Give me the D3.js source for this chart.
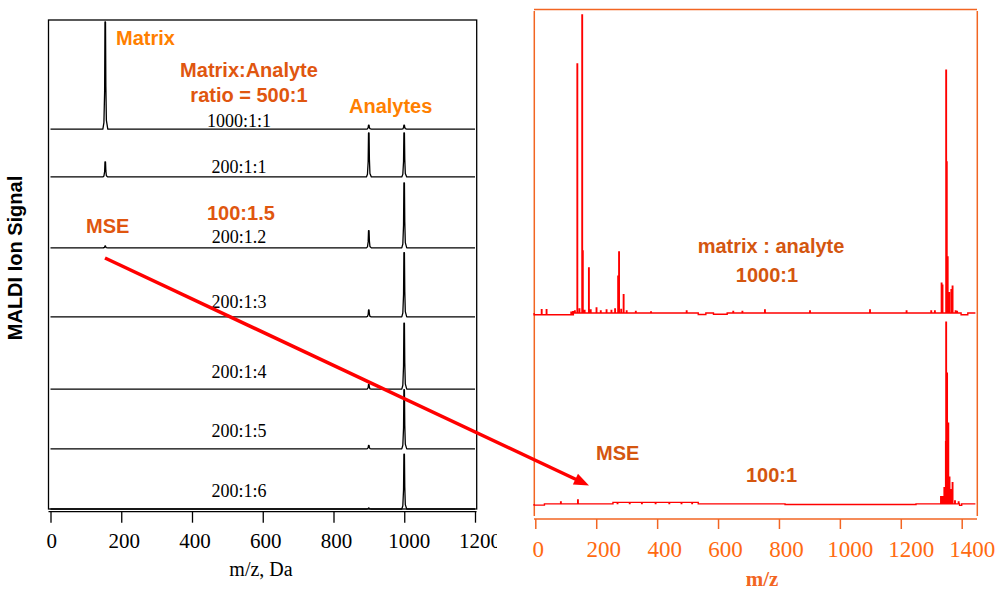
<!DOCTYPE html>
<html><head><meta charset="utf-8">
<script src="https://cdn.jsdelivr.net/npm/d3@7"></script>
<style>body{margin:0;background:#fff;overflow:hidden} svg{display:block}</style>
</head><body>
<svg id="c" width="1001" height="593"></svg>
<script>
// ---------------- data ----------------
const leftTicks = [0, 200, 400, 600, 800, 1000, 1200];
const rightTicks = [0, 200, 400, 600, 800, 1000, 1200, 1400];

const leftSampleLabels = ["1000:1:1", "200:1:1", "200:1.2", "200:1:3", "200:1:4", "200:1:5", "200:1:6"];
const leftOffsets     = [77.7, 67.9, 53.4, 39.3, 24.5, 12.3, 0];   // stacked offsets (a.u.)
const leftPeakMz      = [155, 900, 1000];
const leftMatrix155   = [21.9, 3.1, 0.4, 0, 0, 0, 0];
const leftAnalyte900  = [0.8, 9.0, 3.5, 1.4, 1.0, 0.7, 0.2];
const leftAnalyte1000 = [0.8, 9.0, 13.3, 13.1, 13.5, 12.1, 11.2];

const rightSampleLabels = ["1000:1", "100:1"];
const rightOffsets = [40.2, 2.4];
const rightTopMz  = [21, 37, 118, 124, 130, 138, 145, 154, 156, 162, 176, 182, 201, 215, 234, 250, 262, 272, 275, 282, 290, 300, 330, 380, 497, 650, 680, 754, 902, 1099, 1219, 1300, 1312, 1334, 1337, 1349, 1351, 1354, 1359, 1366, 1370, 1380, 1385];
const rightTopInt = [1.0, 1.0, 0.5, 0.6, 0.4, 49.3, 0.8, 59.0, 12.3, 0.5, 8.9, 0.6, 1.0, 0.4, 0.6, 0.5, 0.8, 7.3, 12.1, 0.7, 3.6, 0.4, 0.3, 0.2, 0.4, 0.3, 0.3, 0.6, 0.4, 0.6, 0.4, 0.4, 0.4, 5.9, 5.5, 48.1, 29.9, 11.1, 4.0, 4.6, 5.3, 0.4, 0.3];
const rightTopBandFrom  = [-4, 535, 585, 1398];
const rightTopBandTo    = [125, 560, 630, 1420];
const rightTopBandLevel = [-0.35, -0.3, -0.25, -0.35];
const rightBotMz  = [84, 140, 270, 310, 350, 395, 440, 480, 515, 1332, 1337, 1343, 1348, 1349, 1352, 1356, 1360, 1366, 1370, 1378, 1390];
const rightBotInt = [0.4, 0.8, -0.25, -0.25, -0.25, -0.25, -0.25, -0.25, -0.25, 1.4, 1.4, 3.2, 12.3, 36.0, 25.9, 16.0, 5.3, 2.8, 4.2, 0.6, 0.4];
const rightBotBandFrom  = [-4, 255, 820, 1393];
const rightBotBandTo    = [30, 535, 1250, 1400];
const rightBotBandLevel = [-0.25, 0.3, -0.12, -0.3];

// ---------------- drawing ----------------
const svg = d3.select("#c");
const ORANGE = "#FF7F00", DARKOR = "#E0560F", FRAME = "#F26522", TICKOR = "#FF6A10";
const SANS = "'Liberation Sans', Arial, sans-serif", SERIF = "'Liberation Serif', 'Times New Roman', serif";

// ---- left panel ----
const xL = d3.scaleLinear().domain([0, 1200]).range([50.5, 475]);
const yL = d3.scaleLinear().domain([0, 100]).range([509, 20]);
const peakProfile = [[-7, 0], [-4, 0.06], [-2, 0.35], [-1, 1], [0.5, 1], [1.5, 0.4], [3, 0.08], [7, 0]];

svg.append("defs").append("clipPath").attr("id", "lclip")
  .append("rect").attr("x", 0).attr("y", -20).attr("width", 497).attr("height", 120);

const left = svg.append("g");
left.append("rect").attr("x", 48.5).attr("y", 20).attr("width", 428.2).attr("height", 489)
  .attr("fill", "none").attr("stroke", "#000").attr("stroke-width", 1.3);

const lineL = d3.line().x(d => xL(d[0])).y(d => yL(d[1]));
const leftHeights = [leftMatrix155, leftAnalyte900, leftAnalyte1000];
leftSampleLabels.forEach((lab, i) => {
  const off = leftOffsets[i];
  const pts = [[0, off]];
  leftPeakMz.forEach((mz, k) => {
    const h = leftHeights[k][i];
    if (h > 0) peakProfile.forEach(p => pts.push([mz + p[0], off + p[1] * h]));
  });
  pts.push([1200, off]);
  left.append("path").attr("d", lineL(pts)).attr("fill", "none")
    .attr("stroke", "#000").attr("stroke-width", 1.3).attr("stroke-linejoin", "round");
});
const labelLift = [1.7, 4, 5.3, 8.7, 11.3, 11.7, 12.3];
left.selectAll("text.lab").data(leftSampleLabels).join("text").attr("class", "lab")
  .attr("x", 239).attr("y", (d, i) => yL(leftOffsets[i]) - labelLift[i])
  .attr("text-anchor", "middle").attr("font-family", SERIF).attr("font-size", 18).attr("fill", "#000")
  .text(d => d);

const axL = left.append("g").attr("transform", "translate(0,511.7)").attr("clip-path", "url(#lclip)");
axL.call(d3.axisBottom(xL).tickValues(leftTicks).tickFormat(d3.format("d")).tickSizeOuter(0).tickSize(11));
axL.select(".domain").attr("d", "M48.5,0H476.5").attr("stroke", "#000").attr("stroke-width", 1.3);
axL.selectAll(".tick line").attr("stroke", "#000").attr("stroke-width", 1.3);
const lShift = { 1: 0.7, 3: 2.5, 4: 4.5 };
axL.selectAll(".tick text").attr("font-family", SERIF).attr("font-size", 21).attr("fill", "#000")
  .attr("y", 36.3).attr("dy", 0).attr("dx", function () { return lShift[this.textContent.length] || 0; });
left.append("text").attr("x", 261).attr("y", 576).attr("text-anchor", "middle")
  .attr("font-family", SERIF).attr("font-size", 20).text("m/z, Da");

svg.append("text").attr("transform", "translate(22,258) rotate(-90)").attr("text-anchor", "middle")
  .attr("font-family", SANS).attr("font-weight", "bold").attr("font-size", 20).text("MALDI Ion Signal");

// annotations left
const ann = (x, y, t, c, anchor) => svg.append("text").attr("x", x).attr("y", y)
  .attr("text-anchor", anchor || "start").attr("font-family", SANS).attr("font-weight", "bold")
  .attr("font-size", 20).attr("fill", c).text(t);
ann(116, 45, "Matrix", ORANGE);
ann(249, 77, "Matrix:Analyte", DARKOR, "middle");
ann(249, 101.7, "ratio = 500:1", DARKOR, "middle");
ann(349, 113, "Analytes", ORANGE);
ann(86, 233, "MSE", DARKOR);
ann(207, 220, "100:1.5", DARKOR);

// ---- right panel ----
const xR = d3.scaleLinear().domain([0, 1400]).range([535.3, 961.7]);
const yR = d3.scaleLinear().domain([0, 100]).range([516, 11]);
const right = svg.append("g");
right.append("line").attr("x1", 534).attr("x2", 977).attr("y1", 9.5).attr("y2", 9.5).attr("stroke", FRAME).attr("stroke-width", 1.5);
[534.3, 977.3].forEach(x => right.append("line").attr("x1", x).attr("x2", x).attr("y1", 11).attr("y2", 516)
  .attr("stroke", FRAME).attr("stroke-width", 1.5));

const lineR = d3.line().x(d => xR(d[0])).y(d => yR(d[1]));
function buildSpectrum(off, mzs, ints, bFrom, bTo, bLev) {
  const level = mz => { for (let j = 0; j < bFrom.length; j++) if (mz >= bFrom[j] && mz <= bTo[j]) return bLev[j]; return 0; };
  const edges = Array.from(new Set([-4, 1445, ...bFrom, ...bTo])).sort((a, b) => a - b);
  const events = edges.map(e => ({ x: e, t: "edge" }))
    .concat(mzs.map((m, k) => ({ x: m, t: "stick", h: ints[k] })))
    .sort((a, b) => a.x - b.x);
  const pts = [];
  events.forEach(ev => {
    if (ev.t === "edge") {
      pts.push([ev.x, off + level(ev.x - 0.01)], [ev.x, off + level(ev.x + 0.01)]);
    } else {
      const b = off + level(ev.x);
      pts.push([ev.x - 0.8, b], [ev.x - 0.8, b + ev.h], [ev.x + 0.8, b + ev.h], [ev.x + 0.8, b]);
    }
  });
  return pts;
}
[[rightTopMz, rightTopInt, rightTopBandFrom, rightTopBandTo, rightTopBandLevel],
 [rightBotMz, rightBotInt, rightBotBandFrom, rightBotBandTo, rightBotBandLevel]].forEach((s, i) => {
  const pts = buildSpectrum(rightOffsets[i], ...s);
  right.append("path").attr("d", lineR(pts)).attr("fill", "none")
    .attr("stroke", "#FF0000").attr("stroke-width", 1.4).attr("stroke-linejoin", "miter");
});

const axR = right.append("g").attr("transform", "translate(0,519)");
axR.call(d3.axisBottom(xR).tickValues(rightTicks).tickFormat(d3.format("d")).tickSizeOuter(0).tickSize(10));
axR.select(".domain").attr("d", "M534,0H977").attr("stroke", FRAME).attr("stroke-width", 1.5);
axR.selectAll(".tick line").attr("stroke", FRAME).attr("stroke-width", 1.5);
const rShift = { 1: 2.4, 3: 7, 4: 10 };
axR.selectAll(".tick text").attr("font-family", SERIF).attr("font-size", 23).attr("fill", TICKOR)
  .attr("y", 37.7).attr("dy", 0).attr("dx", function () { return rShift[this.textContent.length] || 0; });
right.append("text").attr("x", 762).attr("y", 586).attr("text-anchor", "middle")
  .attr("font-family", SERIF).attr("font-weight", "bold").attr("font-size", 21).attr("fill", FRAME).text("m/z");

const RTXT = "#D4560F";
ann(771, 252.7, "matrix : analyte", RTXT, "middle");
ann(767, 281.7, rightSampleLabels[0], RTXT, "middle");
ann(596, 460, "MSE", RTXT);
ann(771.5, 482, rightSampleLabels[1], RTXT, "middle");

// ---- arrow ----
const ax0 = 105, ay0 = 258, ax1 = 589, ay1 = 485.5;
const ang = Math.atan2(ay1 - ay0, ax1 - ax0), L = 15, W = 6;
const bx = ax1 - L * Math.cos(ang), by = ay1 - L * Math.sin(ang);
svg.append("line").attr("x1", ax0).attr("y1", ay0).attr("x2", bx + 2 * Math.cos(ang)).attr("y2", by + 2 * Math.sin(ang))
  .attr("stroke", "#FF0000").attr("stroke-width", 3.5);
svg.append("path").attr("fill", "#FF0000")
  .attr("d", `M${ax1},${ay1}L${bx - W * Math.sin(ang)},${by + W * Math.cos(ang)}L${bx + W * Math.sin(ang)},${by - W * Math.cos(ang)}Z`);
</script>
</body></html>
